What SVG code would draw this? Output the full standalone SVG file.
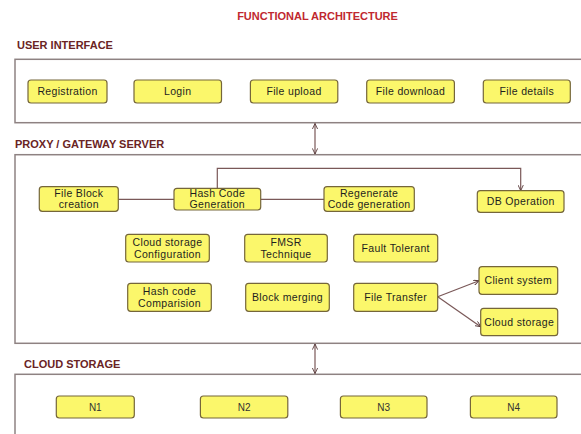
<svg xmlns="http://www.w3.org/2000/svg" width="581" height="434" viewBox="0 0 581 434">
<style>
.bg{fill:#ffffff}
.panel{fill:#ffffff;stroke:#8e8282;stroke-width:1.5}
.box{fill:#fbf76b;stroke:#75663a;stroke-width:1.2}
.t{font-family:"Liberation Sans",Arial,sans-serif;font-size:10.5px;letter-spacing:0.35px;fill:#1e1e1e;text-anchor:middle}
.n{font-family:"Liberation Sans",Arial,sans-serif;font-size:10px;fill:#333333;text-anchor:middle}
.h{font-family:"Liberation Sans",Arial,sans-serif;font-size:11px;font-weight:bold;fill:#6a2424}
.title{font-family:"Liberation Sans",Arial,sans-serif;font-size:11px;font-weight:bold;fill:#c0282f;text-anchor:middle}
.c{fill:none;stroke:#7a5858;stroke-width:1.2}
</style>
<defs>
<marker id="ah" viewBox="0 0 8 8" refX="7.5" refY="4" markerWidth="6" markerHeight="6" orient="auto-start-reverse" markerUnits="userSpaceOnUse">
<path d="M0,0.5 L7.5,4 L0,7.5" fill="none" stroke="#5a3c3c" stroke-width="1.2"/>
</marker>
</defs>
<rect class="bg" x="0" y="0" width="581" height="434"/>
<text class="title" x="317.5" y="20">FUNCTIONAL ARCHITECTURE</text>

<g id="user-interface">
<text class="h" x="17" y="49">USER INTERFACE</text>
<rect class="panel" x="15" y="59.3" width="580" height="63.4"/>
</g>
<g id="proxy-gateway-server">
<text class="h" x="15" y="148">PROXY / GATEWAY SERVER</text>
<rect class="panel" x="15" y="154.7" width="580" height="188.6"/>
</g>
<g id="cloud-storage-panel">
<text class="h" x="24" y="368">CLOUD STORAGE</text>
<rect class="panel" x="15" y="374.3" width="580" height="70"/>
</g>

<g id="connectors">
<line class="c" x1="118.3" y1="199.3" x2="174" y2="199.3"/>
<line class="c" x1="260.7" y1="199.3" x2="324" y2="199.3"/>
<path class="c" d="M217.3,188.3 V168.3 H520.7 V190.7" marker-end="url(#ah)"/>
<line class="c" x1="437.7" y1="296.7" x2="479" y2="280.7" marker-end="url(#ah)"/>
<line class="c" x1="437.7" y1="296.7" x2="480.7" y2="326.7" marker-end="url(#ah)"/>
<line class="c" x1="315" y1="123.5" x2="315" y2="154" marker-start="url(#ah)" marker-end="url(#ah)"/>
<line class="c" x1="315" y1="344" x2="315" y2="373.6" marker-start="url(#ah)" marker-end="url(#ah)"/>
</g>

<g id="registration"><rect class="box" x="28" y="80" width="79" height="23" rx="3"/><text class="t" x="67.5" y="95">Registration</text></g>
<g id="login"><rect class="box" x="134" y="80" width="87.5" height="23" rx="3"/><text class="t" x="177.7" y="95">Login</text></g>
<g id="file-upload"><rect class="box" x="250.4" y="80" width="87.4" height="23" rx="3"/><text class="t" x="294" y="95">File upload</text></g>
<g id="file-download"><rect class="box" x="366.7" y="80" width="87.7" height="23" rx="3"/><text class="t" x="410.5" y="95">File download</text></g>
<g id="file-details"><rect class="box" x="483.3" y="80" width="87" height="23" rx="3"/><text class="t" x="526.8" y="95">File details</text></g>

<g id="file-block-creation"><rect class="box" x="39.3" y="186.7" width="79" height="24.6" rx="3"/><text class="t" x="78.8" y="197">File Block</text><text class="t" x="78.8" y="208">creation</text></g>
<g id="hash-code-generation"><rect class="box" x="174" y="188.3" width="86.7" height="21.7" rx="3"/><text class="t" x="217.3" y="197">Hash Code</text><text class="t" x="217.3" y="208">Generation</text></g>
<g id="regenerate-code-generation"><rect class="box" x="324" y="186.7" width="90.3" height="24.6" rx="3"/><text class="t" x="369.1" y="197">Regenerate</text><text class="t" x="369.1" y="208">Code generation</text></g>
<g id="db-operation"><rect class="box" x="477.3" y="190.7" width="86.7" height="21.6" rx="3"/><text class="t" x="520.7" y="204.7">DB Operation</text></g>
<g id="cloud-storage-configuration"><rect class="box" x="125.7" y="234.3" width="83.6" height="27.7" rx="3"/><text class="t" x="167.5" y="246">Cloud storage</text><text class="t" x="167.5" y="257.7">Configuration</text></g>
<g id="fmsr-technique"><rect class="box" x="244.7" y="234.3" width="82.6" height="27.7" rx="3"/><text class="t" x="286" y="246">FMSR</text><text class="t" x="286" y="257.7">Technique</text></g>
<g id="fault-tolerant"><rect class="box" x="353.7" y="234.3" width="84" height="27.7" rx="3"/><text class="t" x="395.7" y="251.7">Fault Tolerant</text></g>
<g id="hash-code-comparision"><rect class="box" x="127.7" y="283.3" width="83.6" height="28" rx="3"/><text class="t" x="169.5" y="295.4">Hash code</text><text class="t" x="169.5" y="307">Comparision</text></g>
<g id="block-merging"><rect class="box" x="245.7" y="283.3" width="83.6" height="28" rx="3"/><text class="t" x="287.5" y="301">Block merging</text></g>
<g id="file-transfer"><rect class="box" x="353.7" y="283.3" width="84" height="28" rx="3"/><text class="t" x="395.7" y="301">File Transfer</text></g>
<g id="client-system"><rect class="box" x="479" y="266.7" width="78.7" height="27.6" rx="3"/><text class="t" x="518.3" y="284.4">Client system</text></g>
<g id="cloud-storage"><rect class="box" x="480.7" y="308.3" width="77" height="27.4" rx="3"/><text class="t" x="519.2" y="326">Cloud storage</text></g>

<g id="n1"><rect class="box" x="56.3" y="396" width="78" height="22" rx="3"/><text class="n" x="95.3" y="410.5">N1</text></g>
<g id="n2"><rect class="box" x="200.4" y="396" width="87.4" height="22" rx="3"/><text class="n" x="244.1" y="410.5">N2</text></g>
<g id="n3"><rect class="box" x="340.4" y="396" width="86.6" height="22" rx="3"/><text class="n" x="383.7" y="410.5">N3</text></g>
<g id="n4"><rect class="box" x="470.4" y="396" width="86.6" height="22" rx="3"/><text class="n" x="513.7" y="410.5">N4</text></g>
</svg>
